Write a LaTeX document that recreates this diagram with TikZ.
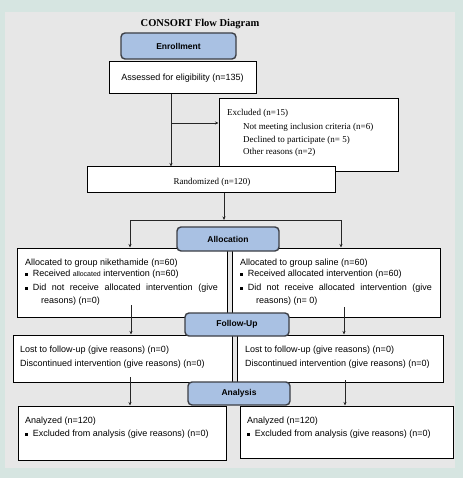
\documentclass[tikz,border=0pt]{standalone}
\usepackage{fontspec}
\setmainfont{Liberation Serif}
\setsansfont{Liberation Sans}
\usetikzlibrary{arrows.meta}
\definecolor{tealbg}{HTML}{D6E5E1}
\definecolor{panel}{HTML}{E7E7E7}
\definecolor{bluebox}{HTML}{A9C1E3}
\definecolor{edgecol}{HTML}{3C3F46}
\newcommand{\sq}{\rule[0.6pt]{2.6pt}{2.6pt}\hspace{5pt}}
\begin{document}
\begin{tikzpicture}[x=1pt,y=-1pt,
  wbox/.style={draw=black, line width=1pt, fill=white, inner sep=0},
  stage/.style={draw=edgecol, line width=1.4pt, fill=bluebox, rounded corners=4pt, inner sep=0,
    font=\sffamily\bfseries\fontsize{8.5}{10}\selectfont},
  sans/.style={font=\sffamily\fontsize{9}{10}\selectfont, inner sep=0, anchor=west},
  serif/.style={font=\fontsize{9}{10}\selectfont, inner sep=0, anchor=west},
  conn/.style={draw=black!85, line width=0.8pt},
  arr/.style={conn, -{Stealth[length=3.5pt,width=3pt]}}
]
\useasboundingbox (0,0) rectangle (463,478);
\fill[tealbg] (0,0) rectangle (463,478);
\fill[panel] (5,12) rectangle (455,468);

\node[font=\bfseries\fontsize{10.5}{12}\selectfont, inner sep=0] (title) at (200,24) {CONSORT Flow Diagram};

% white boxes
\node[wbox, minimum width=147pt, minimum height=32pt, font=\sffamily\fontsize{9}{10}\selectfont] (assess) at (182.5,78) {Assessed for eligibility (n=135)};
\node[wbox, minimum width=179pt, minimum height=73pt] (excl) at (308.5,135.5) {};
\node[wbox, minimum width=248pt, minimum height=25pt] (rand) at (211,179.5) {};
\node[wbox, minimum width=210pt, minimum height=69pt] (allocL) at (122,282.5) {};
\node[wbox, minimum width=208pt, minimum height=69pt] (allocR) at (336,282.5) {};
\node[wbox, minimum width=219pt, minimum height=47pt] (lostL) at (122.5,358.5) {};
\node[wbox, minimum width=206pt, minimum height=47pt] (lostR) at (340,358.5) {};
\node[wbox, minimum width=208pt, minimum height=54pt] (anaL) at (122,433) {};
\node[wbox, minimum width=213pt, minimum height=52pt] (anaR) at (346.5,432) {};

% texts
\node[serif] (ex1) at (227,113) {Excluded (n=15)};
\node[serif] (ex2) at (243,127) {Not meeting inclusion criteria (n=6)};
\node[serif] (ex3) at (243,140) {Declined to participate (n= 5)};
\node[serif] (ex4) at (243,152) {Other reasons (n=2)};
\node[serif, anchor=center] (randt) at (212,182) {Randomized (n=120)};

\node[sans] (al1) at (25,263) {Allocated to group nikethamide (n=60)};
\node[sans] (al2) at (25,274) {\sq Received {\fontsize{7}{8}\selectfont allocated} intervention (n=60)};
\node[sans] (al3) at (25,288) {\sq\makebox[185pt][s]{Did not receive allocated intervention (give}};
\node[sans] (al4) at (41,301) {reasons) (n=0)};

\node[sans] (ar1) at (240,263) {Allocated to group saline (n=60)};
\node[sans] (ar2) at (240,274) {\sq Received allocated intervention (n=60)};
\node[sans] (ar3) at (240,288) {\sq\makebox[184pt][s]{Did not receive allocated intervention (give}};
\node[sans] (ar4) at (256,301) {reasons) (n= 0)};

\node[sans] (ll1) at (20,350) {Lost to follow-up (give reasons) (n=0)};
\node[sans] (ll2) at (20,364) {Discontinued intervention (give reasons) (n=0)};
\node[sans] (lr1) at (245,350) {Lost to follow-up (give reasons) (n=0)};
\node[sans] (lr2) at (245,364) {Discontinued intervention (give reasons) (n=0)};

\node[sans] (nl1) at (25,421) {Analyzed (n=120)};
\node[sans] (nl2) at (25,434) {\sq Excluded from analysis (give reasons) (n=0)};
\node[sans] (nr1) at (247,421) {Analyzed (n=120)};
\node[sans] (nr2) at (247,434) {\sq Excluded from analysis (give reasons) (n=0)};

% connectors
\coordinate (j1) at (171,123);
\draw[arr] (j1 |- assess.south) -- (j1 |- rand.north);
\draw[arr] (j1) -- (j1 -| excl.west);
\coordinate (j2) at (224,220);
\draw[arr] (j2 |- rand.south) -- (j2);
\coordinate (la) at (130,220);
\coordinate (ra) at (341,220);
\draw[conn] (la) -- (ra);
\draw[arr] (la) -- (la |- allocL.north);
\draw[arr] (ra) -- (ra |- allocR.north);
\coordinate (s1) at (131,305);
\draw[arr] (s1) -- (s1 |- lostL.north);
\coordinate (s2) at (344,307);
\draw[arr] (s2) -- (s2 |- lostR.north);
\coordinate (s3) at (130,377);
\draw[arr] (s3) -- (s3 |- anaL.north);
\coordinate (s4) at (345,380);
\draw[arr] (s4) -- (s4 |- anaR.north);

% stage boxes
\node[stage, minimum width=115pt, minimum height=26pt] (enrol) at (178.5,46) {Enrollment};
\node[stage, minimum width=102pt, minimum height=24pt] (alloc) at (228,239) {Allocation};
\node[stage, minimum width=104pt, minimum height=23pt] (follow) at (237,324.5) {Follow-Up};
\node[stage, minimum width=102pt, minimum height=23pt] (analysis) at (239,393.5) {Analysis};
\end{tikzpicture}
\end{document}
